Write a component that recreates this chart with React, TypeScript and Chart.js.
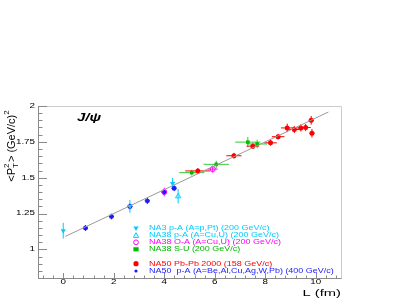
import React, { useEffect, useRef } from "react";
import { Chart, registerables } from "chart.js";
Chart.register(...registerables);

// ---- data ----
const na3L = [0, 2.64, 4.33];
const na3V = [1.13, 1.3, 1.46];
const na3Ye = [0.055, 0.045, 0.038];

const na38pAL = [4.55];
const na38pAV = [1.37];
const na38pAYe = [0.05];

const na38OAL = [4.0, 5.92];
const na38OAV = [1.4, 1.56];
const na38OAYe = [0.03, 0.025];
const na38OAXe = [0.1, 0.2];

const na38SUL = [5.09, 6.06, 7.31, 7.68];
const na38SUV = [1.535, 1.593, 1.748, 1.735];
const na38SUXe = [0.5, 0.5, 0.5, 0.4];
const na38SUYe = [0.02, 0.025, 0.035, 0.03];

const na50PbL = [5.33, 6.76, 7.51, 8.21, 8.51, 8.87, 9.15, 9.41, 9.6, 9.82, 9.85];
const na50PbV = [1.547, 1.653, 1.72, 1.743, 1.786, 1.847, 1.836, 1.847, 1.85, 1.9, 1.81];
const na50PbXe = [0.5, 0.3, 0.25, 0.25, 0.25, 0.25, 0.2, 0.2, 0.2, 0.1, 0.1];
const na50PbYe = [0.02, 0.02, 0.02, 0.02, 0.02, 0.03, 0.025, 0.025, 0.025, 0.03, 0.03];

const na50pAL = [0.88, 1.91, 2.64, 3.33, 4.0, 4.39];
const na50pAV = [1.149, 1.229, 1.299, 1.338, 1.399, 1.426];
const na50pAXe = [0.1, 0.1, 0.1, 0.1, 0.1, 0.1];
const na50pAYe = [0.02, 0.02, 0.02, 0.02, 0.02, 0.02];

const fitL = [0.08, 10.5];
const fitV = [1.09, 1.958];

const xTicks = [0, 2, 4, 6, 8, 10];
const yTicks = [1, 1.25, 1.5, 1.75, 2];

const legendLabels = [
  "NA3 p-A (A=p,Pt) (200 GeV/c)",
  "NA38 p-A (A=Cu,U) (200 GeV/c)",
  "NA38 O-A (A=Cu,U) (200 GeV/c)",
  "NA38 S-U (200 GeV/c)",
  "NA50 Pb-Pb 2000 (158 GeV/c)",
  "NA50  p-A (A=Be,Al,Cu,Ag,W,Pb) (400 GeV/c)",
];

const CYAN = "#00ccff";
const MAGENTA = "#ff00ff";
const GREEN = "#00bb00";
const RED = "#ff0000";
const BLUE = "#1a1aff";
const FONT = "'Liberation Sans', Arial, sans-serif";

function pts(L: number[], V: number[], xe?: number[], ye?: number[]) {
  return L.map((x, i) => ({ x, y: V[i], xe: xe ? xe[i] : 0, ye: ye ? ye[i] : 0 }));
}

const errorBars = {
  id: "errorBars",
  beforeDatasetsDraw(chart: any) {
    const ctx = chart.ctx;
    const xs = chart.scales.x;
    const ys = chart.scales.y;
    ctx.save();
    chart.data.datasets.forEach((ds: any) => {
      if (!ds.errColor) return;
      ctx.strokeStyle = ds.errColor;
      ctx.lineWidth = 1;
      ds.data.forEach((p: any) => {
        const px = xs.getPixelForValue(p.x);
        const py = ys.getPixelForValue(p.y);
        ctx.beginPath();
        if (p.ye) {
          ctx.moveTo(px, ys.getPixelForValue(p.y - p.ye));
          ctx.lineTo(px, ys.getPixelForValue(p.y + p.ye));
        }
        if (p.xe) {
          ctx.moveTo(xs.getPixelForValue(p.x - p.xe), py);
          ctx.lineTo(xs.getPixelForValue(p.x + p.xe), py);
        }
        ctx.stroke();
      });
    });
    ctx.restore();
  },
};

function drawMarker(ctx: CanvasRenderingContext2D, kind: number, x: number, y: number) {
  ctx.save();
  ctx.lineWidth = 1;
  const r = 2.6;
  ctx.beginPath();
  if (kind === 0) {
    ctx.fillStyle = CYAN;
    ctx.moveTo(x - r, y - r * 0.8);
    ctx.lineTo(x + r, y - r * 0.8);
    ctx.lineTo(x, y + r);
    ctx.closePath();
    ctx.fill();
  } else if (kind === 1) {
    ctx.strokeStyle = CYAN;
    ctx.moveTo(x - r, y + r * 0.8);
    ctx.lineTo(x + r, y + r * 0.8);
    ctx.lineTo(x, y - r);
    ctx.closePath();
    ctx.stroke();
  } else if (kind === 2) {
    ctx.strokeStyle = MAGENTA;
    ctx.arc(x, y, r * 0.9, 0, Math.PI * 2);
    ctx.stroke();
  } else if (kind === 3) {
    ctx.fillStyle = GREEN;
    ctx.fillRect(x - r, y - r * 0.8, 2 * r, 1.6 * r);
  } else if (kind === 4) {
    ctx.fillStyle = RED;
    ctx.arc(x, y, r, 0, Math.PI * 2);
    ctx.fill();
  } else {
    ctx.fillStyle = BLUE;
    ctx.arc(x, y, 1.6, 0, Math.PI * 2);
    ctx.fill();
  }
  ctx.restore();
}

function wideText(ctx: CanvasRenderingContext2D, t: string, x: number, y: number, sx: number, align: CanvasTextAlign) {
  ctx.save();
  ctx.translate(x, y);
  ctx.scale(sx, 1);
  ctx.textAlign = align;
  ctx.fillText(t, 0, 0);
  ctx.restore();
}

const decorations = {
  id: "decorations",
  beforeDatasetsDraw(chart: any) {
    const ctx = chart.ctx;
    const a = chart.chartArea;
    const xs = chart.scales.x;
    const ys = chart.scales.y;
    ctx.save();
    // frame
    ctx.strokeStyle = "#cccccc";
    ctx.lineWidth = 1;
    ctx.beginPath();
    ctx.moveTo(Math.round(a.left) + 0.5, Math.round(a.top) + 0.5);
    ctx.lineTo(Math.round(a.right) + 0.5, Math.round(a.top) + 0.5);
    ctx.lineTo(Math.round(a.right) + 0.5, Math.round(a.bottom) + 0.5);
    ctx.stroke();
    ctx.strokeStyle = "#8a8a8a";
    ctx.beginPath();
    ctx.moveTo(Math.round(a.left) + 0.5, Math.round(a.top) + 0.5);
    ctx.lineTo(Math.round(a.left) + 0.5, Math.round(a.bottom) + 0.5);
    ctx.lineTo(Math.round(a.right) + 0.5, Math.round(a.bottom) + 0.5);
    ctx.stroke();
    // y ticks inside
    ctx.beginPath();
    for (let k = 16; k <= 40; k++) {
      const v = k * 0.05;
      const py = Math.round(ys.getPixelForValue(v)) + 0.5;
      const major = k % 5 === 0;
      ctx.moveTo(a.left, py);
      ctx.lineTo(a.left + (major ? 9 : 4.5), py);
    }
    // x ticks inside
    for (let k = -2; k <= 27; k++) {
      const v = k * 0.4;
      if (v < -1 || v > 11) continue;
      const px = Math.round(xs.getPixelForValue(v)) + 0.5;
      const major = k % 5 === 0;
      ctx.moveTo(px, a.bottom);
      ctx.lineTo(px, a.bottom - (major ? 5 : 2.5));
    }
    ctx.stroke();
    ctx.restore();
  },
  afterDraw(chart: any) {
    const ctx = chart.ctx;
    const a = chart.chartArea;
    const xs = chart.scales.x;
    const ys = chart.scales.y;
    ctx.save();
    ctx.fillStyle = "#000";
    ctx.textBaseline = "middle";
    // tick labels (stretched like the reference)
    ctx.font = `7px ${FONT}`;
    yTicks.forEach((v) => wideText(ctx, String(v), a.left - 3, ys.getPixelForValue(v), 1.4, "right"));
    xTicks.forEach((v) => wideText(ctx, String(v), xs.getPixelForValue(v), 282.5, 1.4, "center"));
    // J/psi label
    ctx.font = `bold italic 10px ${FONT}`;
    wideText(ctx, "J/\u03c8", 77, 118.5, 1.5, "left");
    // x title
    ctx.font = `9.5px ${FONT}`;
    wideText(ctx, "L (fm)", a.right, 293.5, 1.55, "right");
    // y title rotated
    ctx.translate(11, 146);
    ctx.rotate(-Math.PI / 2);
    const big = `11px ${FONT}`;
    const small = `8px ${FONT}`;
    ctx.font = big;
    const w1 = ctx.measureText("<P").width;
    ctx.font = small;
    const wS = ctx.measureText("T").width;
    ctx.font = big;
    const w2 = ctx.measureText("> (GeV/c)").width;
    ctx.font = small;
    const w3 = ctx.measureText("2").width;
    const total = w1 + wS + 1 + w2 + w3;
    let cx = -total / 2;
    ctx.textAlign = "left";
    ctx.textBaseline = "alphabetic";
    ctx.font = big;
    ctx.fillText("<P", cx, 4);
    cx += w1;
    ctx.font = small;
    ctx.fillText("T", cx, 7);
    ctx.fillText("2", cx, -2);
    cx += wS + 1;
    ctx.font = big;
    ctx.fillText("> (GeV/c)", cx, 4);
    cx += w2;
    ctx.font = small;
    ctx.fillText("2", cx, -2);
    ctx.restore();

    // legend
    ctx.save();
    const rows = [228.5, 235.3, 242.3, 249.3, 263.7, 271];
    const colors = [CYAN, CYAN, MAGENTA, GREEN, RED, BLUE];
    ctx.font = `6.8px ${FONT}`;
    ctx.textBaseline = "middle";
    legendLabels.forEach((t, i) => {
      drawMarker(ctx, i, 136, rows[i]);
      ctx.fillStyle = colors[i];
      wideText(ctx, t, 149, rows[i], 1.32, "left");
    });
    ctx.restore();
  },
};

export default function App() {
  const ref = useRef<HTMLCanvasElement | null>(null);
  useEffect(() => {
    if (!ref.current) return;
    const chart = new Chart(ref.current, {
      type: "scatter",
      data: {
        datasets: [
          {
            type: "line",
            data: pts(fitL, fitV),
            borderColor: "#999999",
            borderWidth: 1,
            pointRadius: 0,
            fill: false,
          } as any,
          {
            data: pts(na3L, na3V, undefined, na3Ye),
            errColor: CYAN,
            pointStyle: "triangle",
            rotation: 180,
            pointRadius: 3,
            backgroundColor: CYAN,
            borderColor: CYAN,
            borderWidth: 0,
          } as any,
          {
            data: pts(na38pAL, na38pAV, undefined, na38pAYe),
            errColor: CYAN,
            pointStyle: "triangle",
            pointRadius: 3,
            backgroundColor: "rgba(255,255,255,0)",
            borderColor: CYAN,
            borderWidth: 1,
          } as any,
          {
            data: pts(na38OAL, na38OAV, na38OAXe, na38OAYe),
            errColor: MAGENTA,
            pointStyle: "circle",
            pointRadius: 2.5,
            backgroundColor: "rgba(255,255,255,0)",
            borderColor: MAGENTA,
            borderWidth: 1,
          } as any,
          {
            data: pts(na50pAL, na50pAV, na50pAXe, na50pAYe),
            errColor: BLUE,
            pointStyle: "star",
            pointRadius: 2.5,
            backgroundColor: BLUE,
            borderColor: BLUE,
            borderWidth: 1.3,
          } as any,
          {
            data: pts(na38SUL, na38SUV, na38SUXe, na38SUYe),
            errColor: "#33cc33",
            pointStyle: "rect",
            pointRadius: 2.5,
            backgroundColor: GREEN,
            borderColor: GREEN,
            borderWidth: 0,
          } as any,
          {
            data: pts(na50PbL, na50PbV, na50PbXe, na50PbYe),
            errColor: RED,
            pointStyle: "circle",
            pointRadius: 2.5,
            backgroundColor: RED,
            borderColor: RED,
            borderWidth: 0,
          } as any,
        ],
      },
      options: {
        animation: false,
        responsive: false,
        maintainAspectRatio: false,
        layout: { padding: { left: 0, right: 68, top: 106, bottom: 0 } },
        plugins: { legend: { display: false }, tooltip: { enabled: false } },
        scales: {
          x: {
            type: "linear",
            min: -1,
            max: 11,
            afterFit: (s: any) => {
              s.height = 22;
            },
            afterBuildTicks: (s: any) => {
              s.ticks = xTicks.map((v) => ({ value: v }));
            },
            grid: { display: false, drawTicks: false },
            border: { display: false },
            ticks: { display: false },
          },
          y: {
            type: "linear",
            min: 0.8,
            max: 2.0,
            afterFit: (s: any) => {
              s.width = 38;
            },
            afterBuildTicks: (s: any) => {
              s.ticks = yTicks.map((v) => ({ value: v }));
            },
            grid: { display: false, drawTicks: false },
            border: { display: false },
            ticks: { display: false },
          },
        },
      },
      plugins: [decorations, errorBars],
    } as any);
    return () => chart.destroy();
  }, []);
  return (
    <div style={{ position: "fixed", left: 0, top: 0, width: 409, height: 300, background: "#fff" }}>
      <canvas ref={ref} width={409} height={300} style={{ width: 409, height: 300 }} />
    </div>
  );
}
